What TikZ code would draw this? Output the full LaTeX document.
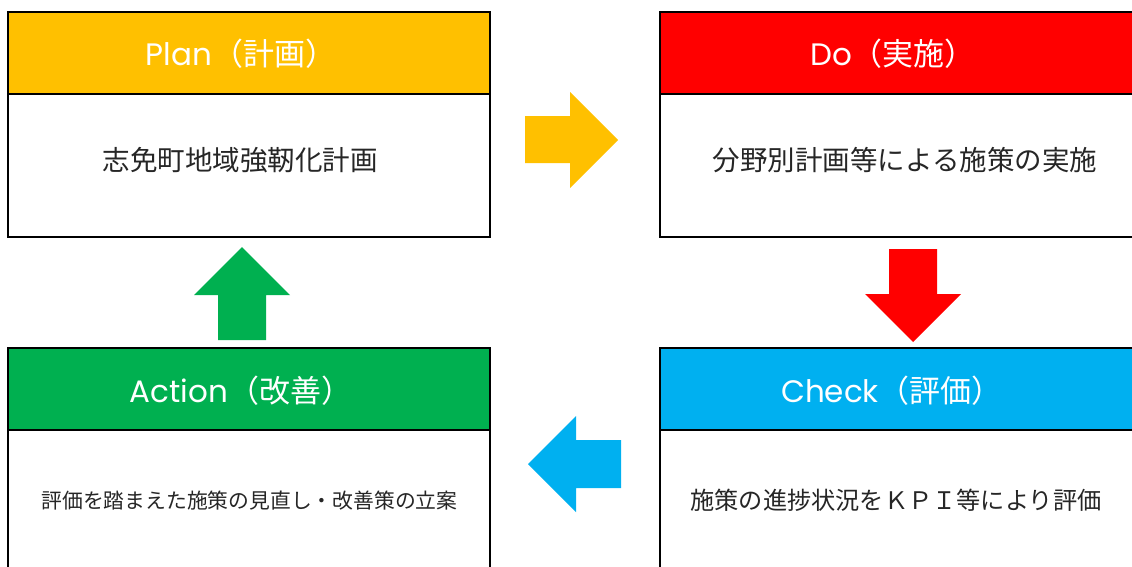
\documentclass[tikz,border=0pt]{standalone}
\usepackage{fontspec}
\setmainfont{Noto Sans CJK JP}
\newfontfamily\latinttl{Poppins}
\definecolor{cgold}{HTML}{FFC000}
\definecolor{cred}{HTML}{FF0000}
\definecolor{cblue}{HTML}{00B0F0}
\definecolor{cgreen}{HTML}{00B050}
\tikzset{
  hdr/.style={draw=black, line width=2.5pt},
  bodybox/.style={draw=black, line width=2.5pt, fill=white},
  ttl/.style={text=white, font=\fontsize{31}{31}\selectfont, inner sep=0pt},
  txt/.style={text=black!85, font=\fontsize{#1}{#1}\selectfont, inner sep=0pt},
}
\begin{document}
\begin{tikzpicture}[x=1pt,y=-1pt]
\useasboundingbox (0,0) rectangle (1132,566);
\clip (0,0) rectangle (1132,566);
\fill[white] (0,0) rectangle (1132,566);
% Plan
\draw[bodybox] (8,94) rectangle (490,237);
\draw[hdr, fill=cgold] (8,12) rectangle (490,94);
\node[ttl] (planT) at (241,54) {{\latinttl Plan}（計画）};
\node[txt=27.5] (planB) at (240,160) {志免町地域強靭化計画};
% Do
\draw[bodybox] (660,94) rectangle (1145,237);
\draw[hdr, fill=cred] (660,12) rectangle (1145,94);
\node[ttl] (doT) at (893,54) {{\latinttl Do}（実施）};
\node[txt=27.5] (doB) at (905,160) {分野別計画等による施策の実施};
% Check
\draw[bodybox] (660,430) rectangle (1145,580);
\draw[hdr, fill=cblue] (660,348) rectangle (1145,430);
\node[ttl] (chkT) at (892,391) {{\latinttl Check}（評価）};
\node[txt=24.2] (chkB) at (896,500) {施策の進捗状況をＫＰＩ等により評価};
% Action
\draw[bodybox] (8,430) rectangle (490,580);
\draw[hdr, fill=cgreen] (8,348) rectangle (490,430);
\node[ttl] (actT) at (241,391) {{\latinttl Action}（改善）};
\node[txt=20.8] (actB) at (249.5,501) {評価を踏まえた施策の見直し・改善策の立案};
% arrows
\fill[cgold] (525,116) -- (570,116) -- (570,92) -- (618,140) -- (570,188) -- (570,163) -- (525,163) -- cycle;
\fill[cred] (889,249) -- (937,249) -- (937,294) -- (961,294) -- (913,342) -- (865,294) -- (889,294) -- cycle;
\fill[cblue] (621,440) -- (576,440) -- (576,416) -- (528,464) -- (576,512) -- (576,488) -- (621,488) -- cycle;
\fill[cgreen] (218,340) -- (266,340) -- (266,295) -- (290,295) -- (242,247) -- (194,295) -- (218,295) -- cycle;
\end{tikzpicture}
\end{document}
